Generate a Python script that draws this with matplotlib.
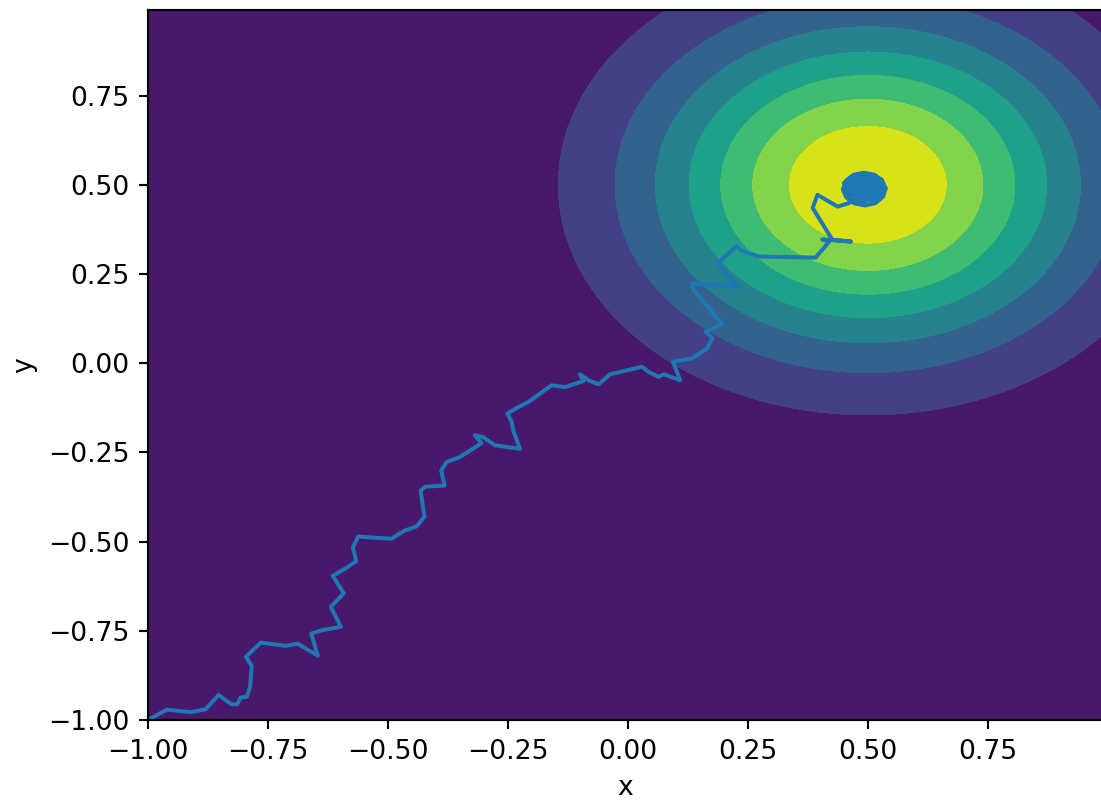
import numpy as np
import matplotlib
matplotlib.use("Agg")
import matplotlib.pyplot as plt

# objective surface: gaussian bump
center = (0.5, 0.5)
width = 0.2
levels = np.linspace(0, 1, 9)

# optimizer trajectory
path_x = [-1.0, -0.961, -0.911, -0.880, -0.853, -0.826, -0.814, -0.807, -0.794, -0.787,
          -0.784, -0.796, -0.765, -0.713, -0.688, -0.646, -0.660, -0.636, -0.598, -0.619,
          -0.592, -0.615, -0.587, -0.566, -0.573, -0.562, -0.493, -0.465, -0.441, -0.424,
          -0.432, -0.422, -0.382, -0.389, -0.378, -0.350, -0.305, -0.319, -0.302, -0.277,
          -0.225, -0.239, -0.242, -0.251, -0.228, -0.208, -0.159, -0.131, -0.093, -0.100,
          -0.082, -0.061, -0.037, 0.029, 0.043, 0.064, 0.075, 0.109, 0.094, 0.134,
          0.165, 0.176, 0.162, 0.196, 0.155, 0.137, 0.134, 0.230, 0.188, 0.226,
          0.235, 0.273, 0.391, 0.419, 0.405, 0.465, 0.426, 0.385, 0.395, 0.437,
          0.461,
          0.470, 0.520, 0.450, 0.532, 0.462, 0.510, 0.490, 0.534, 0.455, 0.500,
          0.476, 0.528, 0.450, 0.514, 0.480, 0.510, 0.465, 0.500, 0.490, 0.525,
          0.462, 0.482, 0.534, 0.475, 0.505, 0.490, 0.495, 0.520, 0.458, 0.500,
          0.470, 0.530, 0.485, 0.515, 0.452, 0.495,
          0.537, 0.530, 0.514, 0.492, 0.470, 0.454, 0.448, 0.455, 0.472, 0.494,
          0.516, 0.532, 0.537, 0.512, 0.478, 0.470, 0.480, 0.508, 0.518, 0.500,
          0.485, 0.498, 0.493]
path_y = [-1.0, -0.971, -0.978, -0.970, -0.930, -0.956, -0.956, -0.937, -0.935, -0.904,
          -0.848, -0.823, -0.783, -0.792, -0.786, -0.820, -0.758, -0.748, -0.739, -0.683,
          -0.645, -0.596, -0.574, -0.555, -0.516, -0.486, -0.492, -0.469, -0.458, -0.430,
          -0.357, -0.346, -0.343, -0.301, -0.277, -0.263, -0.224, -0.202, -0.207, -0.230,
          -0.240, -0.188, -0.165, -0.141, -0.123, -0.109, -0.062, -0.067, -0.050, -0.031,
          -0.048, -0.059, -0.031, -0.010, -0.024, -0.038, -0.031, -0.048, 0.004, 0.014,
          0.041, 0.070, 0.088, 0.110, 0.177, 0.205, 0.224, 0.214, 0.280, 0.329,
          0.317, 0.299, 0.296, 0.340, 0.347, 0.341, 0.346, 0.435, 0.472, 0.439,
          0.449,
          0.455, 0.460, 0.490, 0.500, 0.520, 0.528, 0.450, 0.480, 0.470, 0.525,
          0.528, 0.515, 0.505, 0.452, 0.470, 0.500, 0.500, 0.460, 0.515, 0.470,
          0.458, 0.530, 0.495, 0.485, 0.480, 0.500, 0.470, 0.510, 0.475, 0.530,
          0.510, 0.490, 0.455, 0.525, 0.485, 0.495,
          0.490, 0.512, 0.528, 0.534, 0.528, 0.511, 0.487, 0.465, 0.448, 0.442,
          0.449, 0.467, 0.490, 0.505, 0.508, 0.485, 0.463, 0.465, 0.488, 0.512,
          0.492, 0.478, 0.490]

x = np.arange(-1, 1, 0.01)
y = np.arange(-1, 1, 0.01)
X, Y = np.meshgrid(x, y)
Z = np.exp(-((X - center[0]) ** 2 + (Y - center[1]) ** 2) / width)

dpi = 192
fig = plt.figure(figsize=(1101 / dpi, 803 / dpi), dpi=dpi)
ax = fig.add_axes([148 / 1101, 83 / 803, 955 / 1101, 710 / 803])
ax.contourf(X, Y, Z, levels=levels, cmap="viridis")
ax.plot(path_x, path_y)
ax.set_xlabel("x")
ax.set_ylabel("y")
fig.savefig("out.png", dpi=dpi)
plt.close()
